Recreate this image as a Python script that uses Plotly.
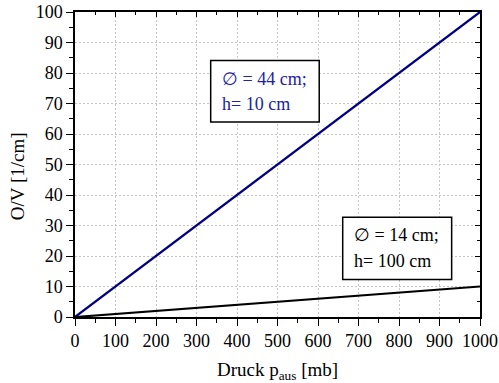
import plotly.graph_objects as go

# Data
pressure = [0, 1000]          # Druck p_aus [mb]
ov_d44_h10 = [0, 100]         # O/V [1/cm], ∅ = 44 cm, h = 10 cm
ov_d14_h100 = [0, 10]         # O/V [1/cm], ∅ = 14 cm, h = 100 cm
x_ticks = [0, 100, 200, 300, 400, 500, 600, 700, 800, 900, 1000]
y_ticks = [0, 10, 20, 30, 40, 50, 60, 70, 80, 90, 100]

FONT = "Liberation Serif"
BLUE_LINE = "#000080"
BLUE_TEXT = "#22229a"

fig = go.Figure()
fig.add_trace(go.Scatter(x=pressure, y=ov_d44_h10, mode="lines",
                         line=dict(color=BLUE_LINE, width=2.2), showlegend=False))
fig.add_trace(go.Scatter(x=pressure, y=ov_d14_h100, mode="lines",
                         line=dict(color="black", width=2.2), showlegend=False))
# dummy trace so that the mirrored (top/right) axes are drawn
fig.add_trace(go.Scatter(x=[0], y=[0], xaxis="x2", yaxis="y2",
                         mode="markers", marker=dict(size=1, opacity=0),
                         showlegend=False, hoverinfo="skip"))

fig.update_layout(
    width=499, height=383,
    margin=dict(l=75, r=19, t=12, b=66, autoexpand=False),
    paper_bgcolor="white", plot_bgcolor="white",
    font=dict(family=FONT, color="black", size=18),
    xaxis=dict(range=[0, 1000], tickvals=x_ticks, ticks="outside", ticklen=7,
               tickwidth=1.3, tickcolor="black", automargin=False,
               tickfont=dict(family=FONT, size=18, color="black"),
               minor=dict(dtick=50, ticks="outside", ticklen=4, tickwidth=1.2,
                          tickcolor="black", showgrid=False),
               showgrid=True, gridcolor="#c4c4c4", gridwidth=1, griddash="2px,2px",
               showline=True, linecolor="black", linewidth=1.5, zeroline=False,
               mirror=True,
               title=dict(text="Druck p<sub>aus</sub> [mb]",
                          font=dict(family=FONT, size=19, color="black"), standoff=12)),
    yaxis=dict(range=[0, 100], tickvals=y_ticks, ticks="outside", ticklen=7,
               tickwidth=1.3, tickcolor="black", automargin=False,
               tickfont=dict(family=FONT, size=18, color="black"),
               minor=dict(dtick=5, ticks="outside", ticklen=4, tickwidth=1.2,
                          tickcolor="black", showgrid=False),
               showgrid=True, gridcolor="#c4c4c4", gridwidth=1, griddash="2px,2px",
               showline=True, linecolor="black", linewidth=1.5, zeroline=False,
               mirror=True),
    xaxis2=dict(range=[0, 1000], overlaying="x", side="top", anchor="y",
                tickvals=x_ticks, ticks="inside", ticklen=5, tickwidth=1.3,
                tickcolor="black", showticklabels=False, showgrid=False,
                zeroline=False, showline=False, automargin=False,
                minor=dict(dtick=50, ticks="inside", ticklen=3, tickwidth=1.2,
                           tickcolor="black", showgrid=False)),
    yaxis2=dict(range=[0, 100], overlaying="y", side="right", anchor="x",
                tickvals=y_ticks, ticks="inside", ticklen=5, tickwidth=1.3,
                tickcolor="black", showticklabels=False, showgrid=False,
                zeroline=False, showline=False, automargin=False,
                minor=dict(dtick=5, ticks="inside", ticklen=3, tickwidth=1.2,
                           tickcolor="black", showgrid=False)),
)

# y-axis title (placed slightly below centre, as in the original)
fig.add_annotation(text="O/V [1/cm]", textangle=-90, xref="paper", yref="paper",
                   x=-0.143, y=0.462, xanchor="center", yanchor="middle",
                   showarrow=False, font=dict(family=FONT, size=19, color="black"))

# Label boxes
fig.add_shape(type="rect", xref="x", yref="y", x0=335, x1=603, y0=63.9, y1=84.1,
              line=dict(color="black", width=1.5), fillcolor="white", layer="above")
fig.add_shape(type="rect", xref="x", yref="y", x0=661, x1=930, y0=12.3, y1=32.7,
              line=dict(color="black", width=1.5), fillcolor="white", layer="above")

labels = [
    ("∅ = 44 cm;", 358, 77.9, BLUE_TEXT),
    ("h= 10 cm", 358, 69.9, BLUE_TEXT),
    ("∅ = 14 cm;", 683, 26.8, "black"),
    ("h= 100 cm", 683, 18.3, "black"),
]
for txt, lx, ly, col in labels:
    fig.add_annotation(text=txt, x=lx, y=ly, xref="x", yref="y",
                       xanchor="left", yanchor="middle", showarrow=False,
                       font=dict(family=FONT, size=18, color=col))

fig.write_html("out.html")
